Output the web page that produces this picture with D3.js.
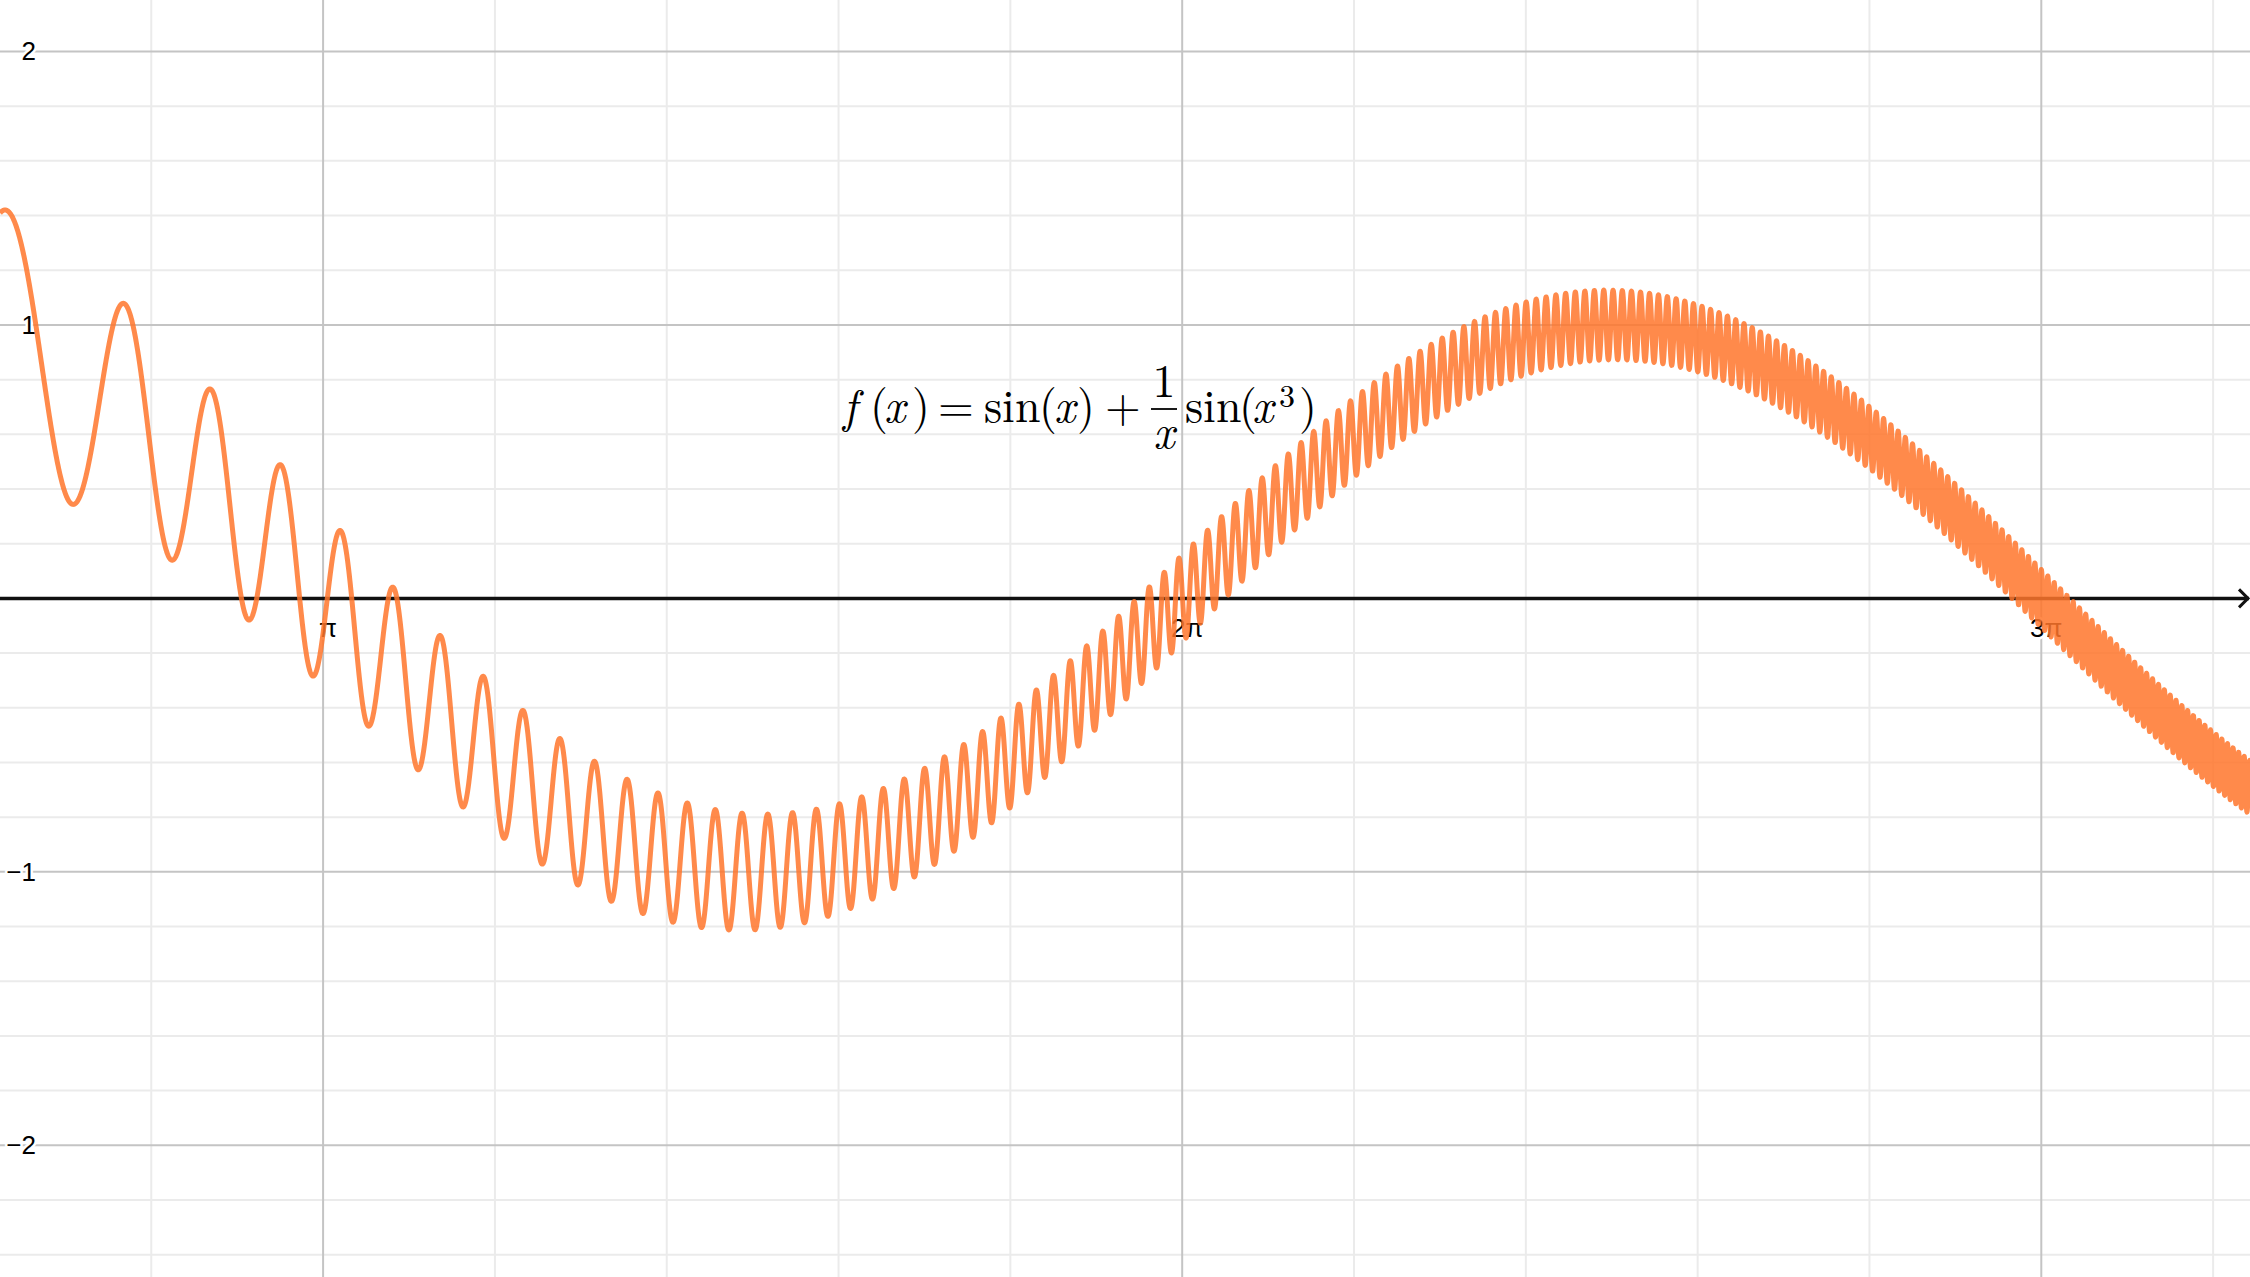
<!DOCTYPE html>
<html>
<head>
<meta charset="utf-8">
<script src="https://cdnjs.cloudflare.com/ajax/libs/d3/7.8.5/d3.min.js"></script>
<style>
  html, body { margin: 0; padding: 0; background: #fff; overflow: hidden; }
  .tick-label { font-family: Arial, "Liberation Sans", sans-serif; font-size: 26px; fill: #000;
    paint-order: stroke; stroke: #fff; stroke-width: 5px; stroke-linejoin: round; }
  .tex { font-family: "Latin Modern Roman", "Latin Modern Math", "CMU Serif", "Liberation Serif", serif; fill: #000; }
</style>
</head>
<body>
<svg id="graph"></svg>
<script>
var width = 2250, height = 1277;

// visible window of the graph (math units)
var xDomain = [1.9601, 10.188];
var yDomain = [-2.4816, 2.1883];

// axis labels
var xTickMultiples = [1, 2, 3];
var xTickLabels = ["π", "2π", "3π"];
var yTicks = [-2, -1, 1, 2];
var yTickLabels = ["−2", "−1", "1", "2"];

// the plotted function, as written on the chart
function f(x) { return Math.sin(x) + (1 / x) * Math.sin(x * x * x); }

var svg = d3.select("#graph").attr("width", width).attr("height", height);

var x = d3.scaleLinear().domain(xDomain).range([0, width]);
var y = d3.scaleLinear().domain(yDomain).range([height, 0]);

// minor grid: pi/5 vertically, 0.2 horizontally
var minorX = d3.range(Math.ceil(xDomain[0] / (Math.PI / 5)), Math.floor(xDomain[1] / (Math.PI / 5)) + 1)
    .filter(function(k){ return k % 5 != 0; })
    .map(function(k){ return k * Math.PI / 5; });
var minorY = d3.range(Math.ceil(yDomain[0] * 5), Math.floor(yDomain[1] * 5) + 1)
    .filter(function(k){ return k % 5 != 0; })
    .map(function(k){ return k / 5; });

var grid = svg.append("g");
grid.selectAll(".minor-x").data(minorX).enter().append("line")
    .attr("x1", function(d){ return x(d); }).attr("x2", function(d){ return x(d); })
    .attr("y1", 0).attr("y2", height)
    .attr("stroke", "#ebebeb").attr("stroke-width", 2);
grid.selectAll(".minor-y").data(minorY).enter().append("line")
    .attr("y1", function(d){ return y(d); }).attr("y2", function(d){ return y(d); })
    .attr("x1", 0).attr("x2", width)
    .attr("stroke", "#ebebeb").attr("stroke-width", 2);

// major grid
grid.selectAll(".major-x").data(xTickMultiples).enter().append("line")
    .attr("x1", function(d){ return x(d * Math.PI); }).attr("x2", function(d){ return x(d * Math.PI); })
    .attr("y1", 0).attr("y2", height)
    .attr("stroke", "#c4c4c4").attr("stroke-width", 2);
grid.selectAll(".major-y").data(yTicks).enter().append("line")
    .attr("y1", function(d){ return y(d); }).attr("y2", function(d){ return y(d); })
    .attr("x1", 0).attr("x2", width)
    .attr("stroke", "#c4c4c4").attr("stroke-width", 2);

// x axis with arrow
svg.append("line")
    .attr("x1", 0).attr("x2", width - 1)
    .attr("y1", y(0)).attr("y2", y(0))
    .attr("stroke", "#111").attr("stroke-width", 3.5);
svg.append("polyline")
    .attr("points", [[width - 11, y(0) - 9], [width - 2, y(0)], [width - 11, y(0) + 9]].join(" "))
    .attr("fill", "none").attr("stroke", "#111").attr("stroke-width", 3);

// tick labels
svg.selectAll(".xl").data(xTickMultiples).enter().append("text")
    .attr("class", "tick-label")
    .attr("x", function(d){ return x(d * Math.PI) + 5; })
    .attr("y", y(0) + 39)
    .attr("text-anchor", "middle")
    .text(function(d, i){ return xTickLabels[i]; });
svg.selectAll(".yl").data(yTicks).enter().append("text")
    .attr("class", "tick-label")
    .attr("x", 36)
    .attr("y", function(d){ return y(d) + 9; })
    .attr("text-anchor", "end")
    .text(function(d, i){ return yTickLabels[i]; });

// the curve (translucent, drawn over grid, axis and labels)
var step = 0.25 / (x(1) - x(0));
var pts = d3.range(xDomain[0], xDomain[1] + step, step).map(function(v){ return [v, f(v)]; });
svg.append("path")
    .datum(pts)
    .attr("fill", "none")
    .attr("stroke", "#ff752c")
    .attr("stroke-opacity", 0.85)
    .attr("stroke-width", 5)
    .attr("stroke-linejoin", "round")
    .attr("d", d3.line().x(function(d){ return x(d[0]); }).y(function(d){ return y(d[1]); }));

// formula label, typeset piece by piece
var tex = svg.append("g").attr("class", "tex");
var base = 422;
var glyphs = [
    {t: "f", i: 1, x: 843}, {t: "(", x: 870}, {t: "x", i: 1, x: 884}, {t: ")", x: 912},
    {t: "=", x: 938},
    {t: "sin", x: 984}, {t: "(", x: 1039}, {t: "x", i: 1, x: 1054}, {t: ")", x: 1077},
    {t: "+", x: 1105},
    {t: "1", x: 1164, dy: -25, a: "middle"}, {t: "x", i: 1, x: 1164, dy: 26, a: "middle"},
    {t: "sin", x: 1185}, {t: "(", x: 1239}, {t: "x", i: 1, x: 1252},
    {t: "3", x: 1279, dy: -15, s: 32}, {t: ")", x: 1299}
];
tex.selectAll("text").data(glyphs).enter().append("text")
    .attr("x", function(d){ return d.x; })
    .attr("y", function(d){ return base + (d.dy || 0); })
    .attr("font-size", function(d){ return d.s || 46; })
    .attr("font-style", function(d){ return d.i ? "italic" : "normal"; })
    .attr("text-anchor", function(d){ return d.a || "start"; })
    .text(function(d){ return d.t; });
tex.append("line").attr("x1", 1151).attr("x2", 1177)
    .attr("y1", base - 13).attr("y2", base - 13)
    .attr("stroke", "#000").attr("stroke-width", 1.8);
</script>
</body>
</html>
